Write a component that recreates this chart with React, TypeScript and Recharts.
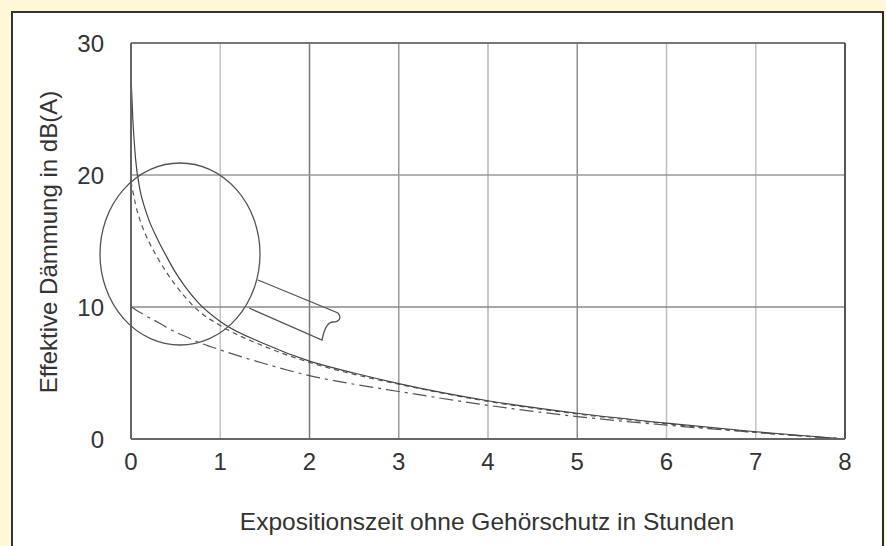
import React from "react";
import { LineChart, Line, XAxis, YAxis, ReferenceLine, Label } from "recharts";

// Exposure time without hearing protection (hours)
const hours = [0, 0.02, 0.05, 0.1, 0.15, 0.2, 0.3, 0.4, 0.5, 0.6, 0.75, 1, 1.5, 2, 2.5, 3, 4, 5, 6, 7, 8];
// Effective attenuation in dB(A)
const solid30 = [27.5, 24.3, 21.3, 18.9, 17.6, 16.6, 15.1, 13.8, 12.6, 11.6, 10.35, 8.9, 7.2, 5.9, 5.0, 4.2, 2.9, 1.95, 1.2, 0.55, 0];
const dashed20 = [19.5, 18.8, 17.8, 16.6, 15.7, 14.95, 13.7, 12.6, 11.65, 10.8, 9.75, 8.6, 7.0, 5.8, 4.9, 4.15, 2.85, 1.9, 1.15, 0.5, 0];
const dashDot10 = [10, 9.95, 9.8, 9.6, 9.4, 9.2, 8.85, 8.45, 8.1, 7.8, 7.35, 6.75, 5.7, 4.8, 4.15, 3.6, 2.55, 1.7, 1.05, 0.5, 0];

const xTicks = [0, 1, 2, 3, 4, 5, 6, 7, 8];
const yTicks = [0, 10, 20, 30];

const data = hours.map((h, i) => ({
  h,
  d30: solid30[i],
  d20: dashed20[i],
  d10: dashDot10[i],
}));

// scanned grid lines are not all the same grey
const vGridColors: Record<number, string> = { 1: "#c4c4c4", 2: "#7a7a7a", 3: "#9a9a9a", 4: "#b4b4b4", 5: "#8e8e8e", 6: "#c0c0c0", 7: "#c4c4c4" };

const font = '"Liberation Sans", Arial, Helvetica, sans-serif';
const ink = "#333";

const YTitle = () => {
  const cx = 57;
  const cy = 242;
  return (
    <text
      x={cx}
      y={cy}
      transform={`rotate(-90 ${cx} ${cy})`}
      textAnchor="middle"
      fontSize={24}
      fontFamily={font}
      fill={ink}
    >
      Effektive Dämmung in dB(A)
    </text>
  );
};

const XTitle = () => (
  <text x={487} y={530} textAnchor="middle" fontSize={24.5} fontFamily={font} fill={ink}>
    Expositionszeit ohne Gehörschutz in Stunden
  </text>
);

export default function App() {
  return (
    <div style={{ position: "relative", width: 886, height: 546, background: "#fef8d6", overflow: "hidden" }}>
      <style>{`body{margin:0}`}</style>
      <div
        style={{
          position: "absolute",
          left: 11,
          top: 11,
          width: 869,
          height: 560,
          background: "#fff",
          borderLeft: "2px solid #333",
          borderTop: "2px solid #333",
          borderRight: "2px solid #2a2a2a",
        }}
      />
      <div style={{ position: "absolute", left: 0, top: 0 }}>
        <LineChart width={886} height={546} data={data} margin={{ top: 43, right: 41, left: 11, bottom: 7 }}>
          <XAxis
            dataKey="h"
            type="number"
            domain={[0, 8]}
            ticks={xTicks}
            tickSize={0}
            tickMargin={14}
            height={100}
            axisLine={{ stroke: "#666", strokeWidth: 2 }}
            tick={{ fontSize: 24, fill: ink, fontFamily: font }}
          >
            <Label content={<XTitle />} />
          </XAxis>
          <YAxis
            type="number"
            domain={[0, 30]}
            ticks={yTicks}
            tickSize={0}
            tickMargin={27}
            width={120}
            axisLine={{ stroke: "#666", strokeWidth: 2 }}
            tick={{ fontSize: 24, fill: ink, fontFamily: font }}
          >
            <Label content={<YTitle />} />
          </YAxis>
          {xTicks.slice(1, 8).map((t) => (
            <ReferenceLine key={"v" + t} x={t} stroke={vGridColors[t]} strokeWidth={1.5} />
          ))}
          <ReferenceLine y={10} stroke="#8a8a8a" strokeWidth={1.5} />
          <ReferenceLine y={20} stroke="#9a9a9a" strokeWidth={1.5} />
          <ReferenceLine y={30} stroke="#777" strokeWidth={2} />
          <ReferenceLine x={8} stroke="#555" strokeWidth={2} />
          <Line
            type="monotone"
            dataKey="d10"
            stroke="#555"
            strokeWidth={1.2}
            strokeDasharray="14 5 3 5"
            dot={false}
            isAnimationActive={false}
          />
          <Line
            type="monotone"
            dataKey="d20"
            stroke="#555"
            strokeWidth={1.2}
            strokeDasharray="5 4"
            dot={false}
            isAnimationActive={false}
          />
          <Line
            type="monotone"
            dataKey="d30"
            stroke="#444"
            strokeWidth={1.2}
            dot={false}
            isAnimationActive={false}
          />
        </LineChart>
      </div>
      {/* magnifying glass drawn over the steep part of the curves */}
      <svg width={886} height={546} style={{ position: "absolute", left: 0, top: 0, pointerEvents: "none" }}>
        <ellipse cx={180} cy={254} rx={80} ry={91} fill="none" stroke="#555" strokeWidth={1.3} />
        <path
          d="M258,280 L338,313 C342,318 339,322 333,322 C327,322 324,330 322,340 L249,308"
          fill="none"
          stroke="#555"
          strokeWidth={1.3}
        />
      </svg>
    </div>
  );
}
